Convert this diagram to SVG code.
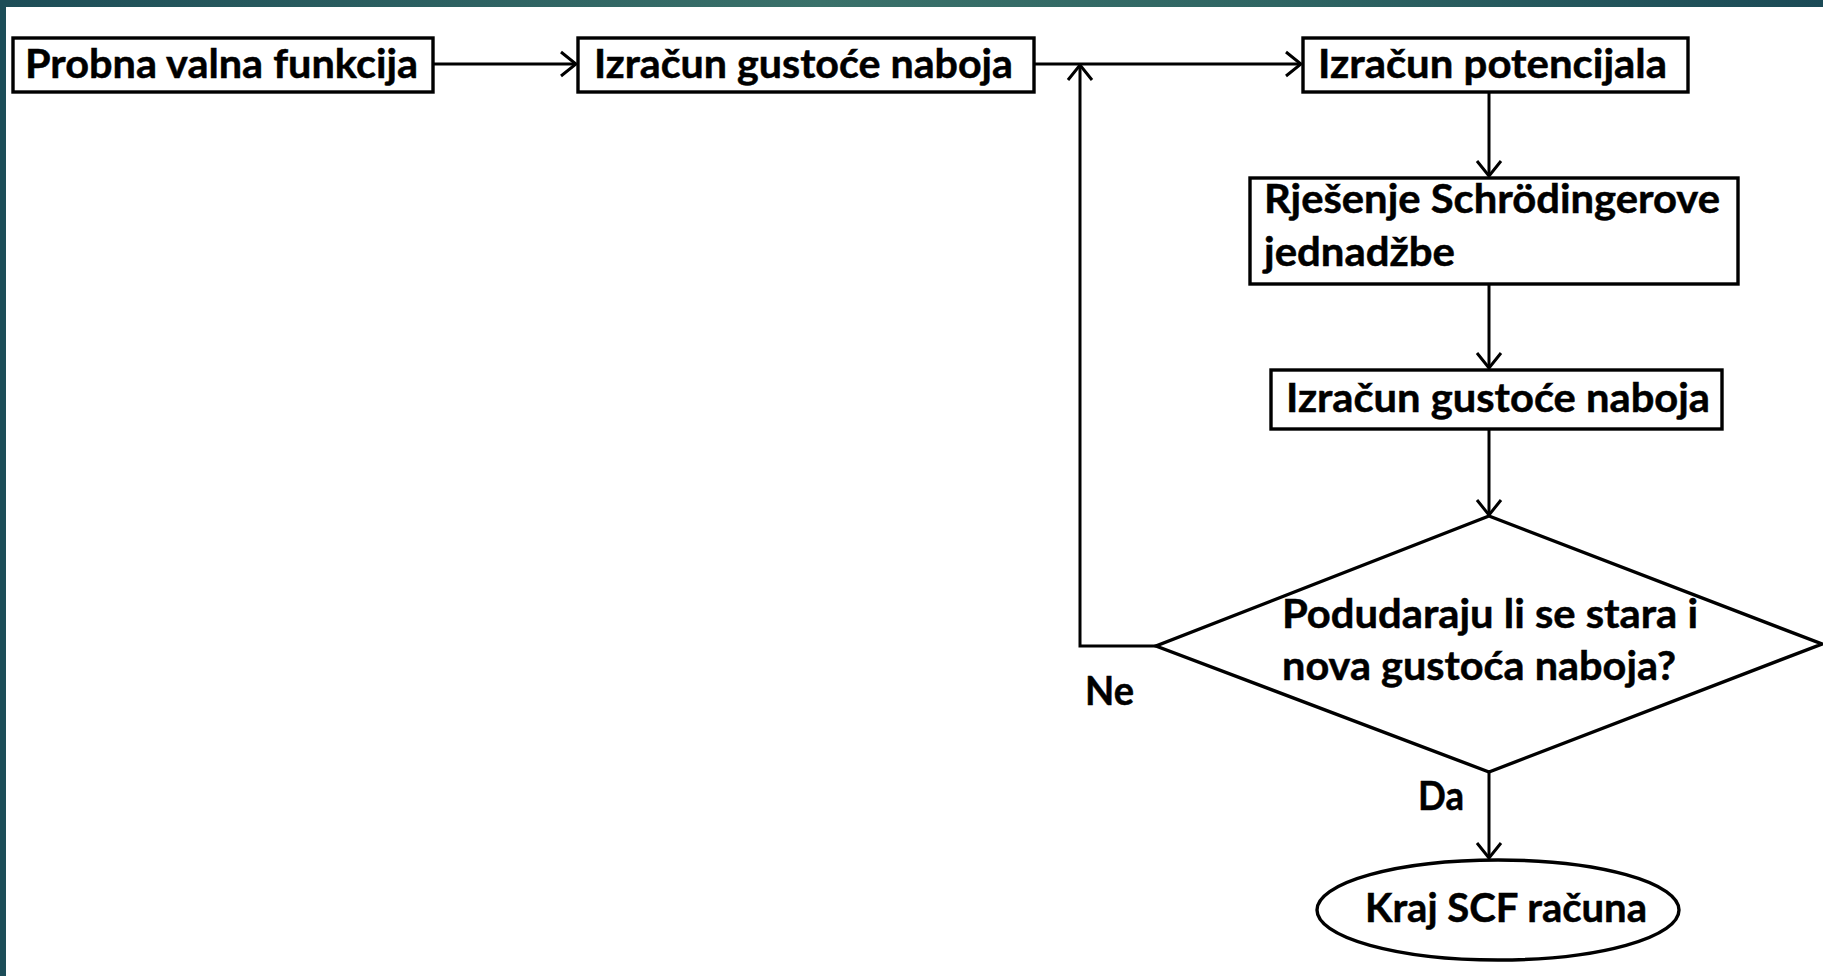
<svg xmlns="http://www.w3.org/2000/svg" width="1823" height="976" viewBox="0 0 1823 976">
  <style>
    .box { fill: #ffffff; stroke: #000000; stroke-width: 3.4; }
    .lbl { font-family: Lato, "Open Sans", "Liberation Sans", sans-serif; font-weight: bold; font-size: 41px; fill: #000000; stroke: #000000; stroke-width: 0.5; }
    .con { fill: none; stroke: #000000; stroke-width: 3; }
  </style>
  <defs>
    <linearGradient id="topbar" x1="0" y1="0" x2="1" y2="0">
      <stop offset="0" stop-color="#1d4d57"/>
      <stop offset="0.45" stop-color="#3a716a"/>
      <stop offset="0.7" stop-color="#2f6563"/>
      <stop offset="1" stop-color="#1b4a56"/>
    </linearGradient>
    <marker id="arr" viewBox="-17 -14 19 28" refX="0" refY="0" markerWidth="19" markerHeight="28" markerUnits="userSpaceOnUse" orient="auto">
      <path d="M -15 -12 L 0 0 L -15 12" fill="none" stroke="#000000" stroke-width="3"/>
    </marker>
  </defs>

  <rect x="0" y="0" width="1823" height="976" fill="#ffffff"/>
  <rect x="0" y="0" width="1823" height="7" fill="url(#topbar)"/>
  <rect x="0" y="0" width="6" height="976" fill="#1c4d58"/>

  <g id="connectors">
    <line class="con" x1="433" y1="64" x2="576" y2="64" marker-end="url(#arr)"/>
    <line class="con" x1="1034" y1="64" x2="1301" y2="64" marker-end="url(#arr)"/>
    <line class="con" x1="1489" y1="92" x2="1489" y2="176" marker-end="url(#arr)"/>
    <line class="con" x1="1489" y1="285" x2="1489" y2="368" marker-end="url(#arr)"/>
    <line class="con" x1="1489" y1="430" x2="1489" y2="515" marker-end="url(#arr)"/>
    <polyline class="con" points="1156,646 1080,646 1080,65" marker-end="url(#arr)"/>
    <line class="con" x1="1489" y1="772" x2="1489" y2="858" marker-end="url(#arr)"/>
    <text class="lbl" x="1085" y="705" textLength="49" lengthAdjust="spacingAndGlyphs">Ne</text>
    <text class="lbl" x="1418" y="810" textLength="46" lengthAdjust="spacingAndGlyphs">Da</text>
  </g>

  <g id="n1">
    <rect class="box" x="13" y="38" width="420" height="54"/>
    <text class="lbl" x="25" y="78" textLength="393" lengthAdjust="spacingAndGlyphs">Probna valna funkcija</text>
  </g>
  <g id="n2">
    <rect class="box" x="578" y="38" width="456" height="54"/>
    <text class="lbl" x="594" y="78" textLength="419" lengthAdjust="spacingAndGlyphs">Izračun gustoće naboja</text>
  </g>
  <g id="n3">
    <rect class="box" x="1303" y="38" width="385" height="54"/>
    <text class="lbl" x="1318" y="78" textLength="349" lengthAdjust="spacingAndGlyphs">Izračun potencijala</text>
  </g>
  <g id="n4">
    <rect class="box" x="1250" y="178" width="488" height="106"/>
    <text class="lbl" x="1264" y="213" textLength="456" lengthAdjust="spacingAndGlyphs">Rješenje Schrödingerove</text>
    <text class="lbl" x="1264" y="266" textLength="191" lengthAdjust="spacingAndGlyphs">jednadžbe</text>
  </g>
  <g id="n5">
    <rect class="box" x="1271" y="370" width="451" height="59"/>
    <text class="lbl" x="1286" y="412" textLength="424" lengthAdjust="spacingAndGlyphs">Izračun gustoće naboja</text>
  </g>
  <g id="n6">
    <polygon class="box" points="1489,516 1822,644 1489,772 1156,646"/>
    <text class="lbl" x="1282" y="628" textLength="416" lengthAdjust="spacingAndGlyphs">Podudaraju li se stara i</text>
    <text class="lbl" x="1282" y="680" textLength="394" lengthAdjust="spacingAndGlyphs">nova gustoća naboja?</text>
  </g>
  <g id="n7">
    <ellipse class="box" cx="1498" cy="910" rx="181" ry="50"/>
    <text class="lbl" x="1365" y="922" textLength="282" lengthAdjust="spacingAndGlyphs">Kraj SCF računa</text>
  </g>
</svg>
